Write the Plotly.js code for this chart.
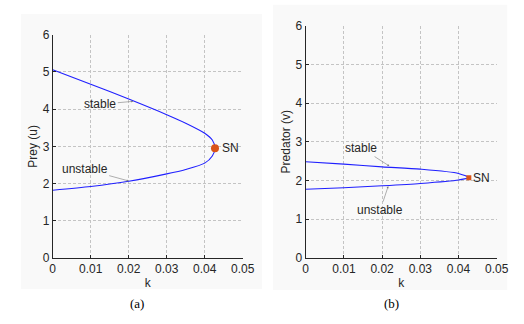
<!DOCTYPE html>
<html><head><meta charset="utf-8">
<script src="https://cdn.plot.ly/plotly-3.0.1.min.js"></script>
<style>html,body{margin:0;padding:0;background:#fff}#chart{width:524px;height:324px}</style>
</head><body><div id="chart"></div>
<script>
// Panel (a): prey equilibrium branch u vs k (upper stable -> fold -> lower unstable)
const preyK = [0, 0.01, 0.02, 0.03, 0.035, 0.04, 0.042, 0.0427, 0.042, 0.04, 0.035, 0.03, 0.02, 0.01, 0];
const preyU = [5.06, 4.67, 4.27, 3.85, 3.62, 3.35, 3.17, 2.95, 2.74, 2.55, 2.38, 2.26, 2.06, 1.92, 1.82];
// Panel (b): predator equilibrium branch v vs k
const predK = [0, 0.01, 0.02, 0.03, 0.04, 0.0427, 0.04, 0.03, 0.02, 0.01, 0];
const predV = [2.48, 2.42, 2.35, 2.29, 2.18, 2.07, 2.01, 1.92, 1.86, 1.81, 1.77];
// Saddle-node points
const snPrey = {k: 0.0427, u: 2.95};
const snPred = {k: 0.0427, v: 2.07};
const xTicks = [0, 0.01, 0.02, 0.03, 0.04, 0.05];
const xTickText = ['0', '0.01', '0.02', '0.03', '0.04', '0.05'];
const yTicks = [0, 1, 2, 3, 4, 5, 6];

const lineColor = '#2020ff';
const snColor = '#d95319';
const font = {family: 'Liberation Sans, Arial, sans-serif', size: 12, color: '#262626'};

const traces = [
  {x: preyK, y: preyU, xaxis: 'x', yaxis: 'y', mode: 'lines', line: {color: lineColor, width: 1.1, shape: 'spline', smoothing: 0.7}, hoverinfo: 'skip'},
  {x: [snPrey.k], y: [snPrey.u], xaxis: 'x', yaxis: 'y', mode: 'markers', marker: {color: snColor, size: 8, symbol: 'circle'}},
  {x: predK, y: predV, xaxis: 'x2', yaxis: 'y2', mode: 'lines', line: {color: lineColor, width: 1.1, shape: 'spline', smoothing: 0.7}, hoverinfo: 'skip'},
  {x: [snPred.k], y: [snPred.v], xaxis: 'x2', yaxis: 'y2', mode: 'markers', marker: {color: snColor, size: 5, symbol: 'square'}}
];

function xax(domain, anchor) {
  return {domain: domain, anchor: anchor, range: [0, 0.05], tickvals: xTicks, ticktext: xTickText,
    showgrid: true, gridcolor: '#c4c4c4', griddash: '3px,2px', gridwidth: 1, zeroline: false,
    showline: true, linecolor: '#262626', linewidth: 1, ticks: 'inside', ticklen: 3, tickcolor: '#262626',
    tickfont: font, title: {text: 'k', font: font, standoff: 3}, fixedrange: true};
}
function yax(domain, anchor, title) {
  return {domain: domain, anchor: anchor, range: [0, 6], tickvals: yTicks,
    showgrid: true, gridcolor: '#c4c4c4', griddash: '3px,2px', gridwidth: 1, zeroline: false,
    showline: true, linecolor: '#262626', linewidth: 1, ticks: 'inside', ticklen: 3, tickcolor: '#262626',
    tickfont: font, title: {text: title, font: font, standoff: 2}, fixedrange: true};
}

const arrowStyle = {showarrow: true, arrowhead: 2, arrowsize: 0.7, arrowwidth: 0.6, arrowcolor: '#7a7a7a', standoff: 0, font: font};
const capFont = {family: 'Liberation Serif, Times New Roman, serif', size: 13, color: '#000'};

const layout = {
  width: 524, height: 324,
  margin: {l: 0, r: 0, t: 0, b: 0},
  paper_bgcolor: '#ffffff', plot_bgcolor: '#ffffff',
  showlegend: false,
  xaxis: xax([0.1006, 0.4632], 'y'),
  yaxis: yax([0.2037, 0.8929], 'x', 'Prey (u)'),
  xaxis2: xax([0.5834, 0.9479], 'y2'),
  yaxis2: yax([0.2046, 0.9207], 'x2', 'Predator (v)'),
  shapes: [
    {type: 'rect', xref: 'paper', yref: 'paper', x0: 0.040, x1: 0.500, y0: 0.108, y1: 0.957, fillcolor: '#f9f9f9', line: {width: 0}, layer: 'below'},
    {type: 'rect', xref: 'paper', yref: 'paper', x0: 0.521, x1: 0.968, y0: 0.105, y1: 0.985, fillcolor: '#f9f9f9', line: {width: 0}, layer: 'below'}
  ],
  annotations: [
    Object.assign({text: 'stable', xref: 'x', yref: 'y', x: 0.0212, y: 4.21, ax: -33, ay: 3}, arrowStyle),
    Object.assign({text: 'unstable', xref: 'x', yref: 'y', x: 0.0200, y: 2.07, ax: -44, ay: -12}, arrowStyle),
    {text: 'SN', xref: 'x', yref: 'y', x: snPrey.k, y: snPrey.u, xanchor: 'left', yanchor: 'middle', xshift: 5, showarrow: false, font: font},
    Object.assign({text: 'stable', xref: 'x2', yref: 'y2', x: 0.0219, y: 2.37, ax: -28, ay: -18}, arrowStyle),
    Object.assign({text: 'unstable', xref: 'x2', yref: 'y2', x: 0.0216, y: 1.85, ax: -8, ay: 24}, arrowStyle),
    {text: 'SN', xref: 'x2', yref: 'y2', x: snPred.k, y: snPred.v, xanchor: 'left', yanchor: 'middle', xshift: 2, showarrow: false, font: font},
    {text: '(a)', xref: 'paper', yref: 'paper', x: 137 / 524, y: 1 - 303 / 324, xanchor: 'center', yanchor: 'middle', showarrow: false, font: capFont},
    {text: '(b)', xref: 'paper', yref: 'paper', x: 391 / 524, y: 1 - 303 / 324, xanchor: 'center', yanchor: 'middle', showarrow: false, font: capFont}
  ]
};

Plotly.newPlot('chart', traces, layout, {staticPlot: true, displayModeBar: false});
</script></body></html>
